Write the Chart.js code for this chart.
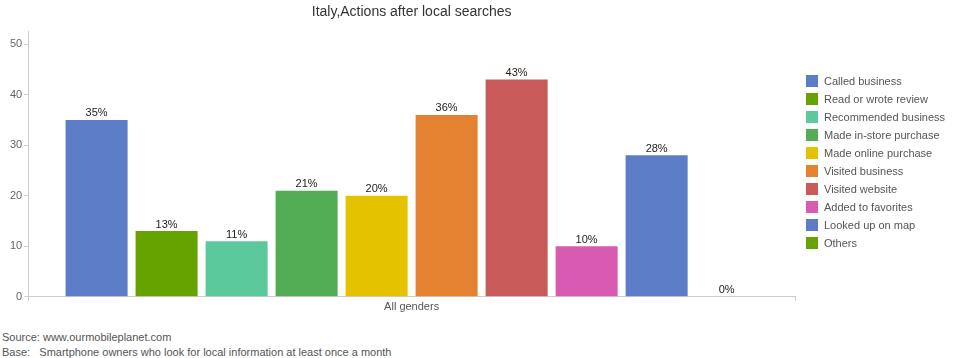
<!DOCTYPE html>
<html>
<head>
<meta charset="utf-8">
<script src="https://cdn.jsdelivr.net/npm/chart.js@4/dist/chart.umd.min.js"></script>
<style>
  html,body{margin:0;padding:0;background:#fff;}
  #wrap{position:relative;width:958px;height:358px;}
  #c{position:absolute;left:0;top:0;}
  .foot{position:absolute;left:2px;font-family:"Liberation Sans",Arial,sans-serif;font-size:11px;color:#555;white-space:pre;}
</style>
</head>
<body>
<div id="wrap">
  <canvas id="c" width="958" height="320"></canvas>
  <div class="foot" style="top:331px">Source: www.ourmobileplanet.com</div>
  <div class="foot" style="top:346px">Base:   Smartphone owners who look for local information at least once a month</div>
</div>
<script>
const title = "Italy,Actions after local searches";
const categories = ["All genders"];
const seriesNames = ["Called business","Read or wrote review","Recommended business","Made in-store purchase","Made online purchase","Visited business","Visited website","Added to favorites","Looked up on map","Others"];
const seriesValues = [35,13,11,21,20,36,43,10,28,0];
const seriesColors = ["#5B7DC8","#66A300","#5BC99B","#52AD54","#E5C200","#E58231","#C85B5A","#D85BB1","#5B7DC8","#66A300"];
const yTicks = [0,10,20,30,40,50];

const FONT = '"Liberation Sans", Arial, sans-serif';

const datasets = seriesNames.map((n,i)=>({
  label:n,
  data:[seriesValues[i]],
  backgroundColor:seriesColors[i],
  borderWidth:0,
  categoryPercentage:0.913,
  barPercentage:0.886
}));

const extras = {
  id:'extras',
  afterDraw(chart){
    const ctx = chart.ctx;
    const ca = chart.chartArea;
    ctx.save();
    ctx.font = '14px ' + FONT;
    ctx.fillStyle = '#333';
    ctx.textAlign = 'center';
    ctx.textBaseline = 'middle';
    ctx.fillText(title, (ca.left+ca.right)/2, 12);
    ctx.font = '11px ' + FONT;
    ctx.fillStyle = '#222';
    ctx.textBaseline = 'bottom';
    chart.data.datasets.forEach((ds,i)=>{
      const meta = chart.getDatasetMeta(i);
      meta.data.forEach((el,j)=>{
        ctx.fillText(ds.data[j] + '%', el.x, el.y - 1);
      });
    });
    ctx.textAlign = 'left';
    ctx.textBaseline = 'middle';
    ctx.font = '11px ' + FONT;
    chart.data.datasets.forEach((ds,i)=>{
      const y = 81 + i*18;
      ctx.fillStyle = ds.backgroundColor;
      ctx.fillRect(806, y-6, 12, 12);
      ctx.fillStyle = '#555';
      ctx.fillText(ds.label, 824, y+1);
    });
    ctx.restore();
  }
};

new Chart(document.getElementById('c'), {
  type:'bar',
  data:{labels:categories, datasets},
  options:{
    responsive:false,
    animation:false,
    layout:{padding:{top:31, right:163, left:8, bottom:6}},
    plugins:{legend:{display:false}, title:{display:false}, tooltip:{enabled:false}},
    scales:{
      x:{
        grid:{display:true, drawOnChartArea:false, tickLength:4, color:'#ccc'},
        border:{color:'#ccc'},
        ticks:{color:'#555', font:{family:FONT, size:11}, padding:0}
      },
      y:{
        min:0, max:52.6,
        afterBuildTicks(axis){ axis.ticks = yTicks.map(v=>({value:v})); },
        grid:{display:true, drawOnChartArea:false, tickLength:4, color:'#ccc'},
        border:{color:'#ccc'},
        ticks:{color:'#666', font:{family:FONT, size:11}, padding:2}
      }
    }
  },
  plugins:[extras]
});
</script>
</body>
</html>
